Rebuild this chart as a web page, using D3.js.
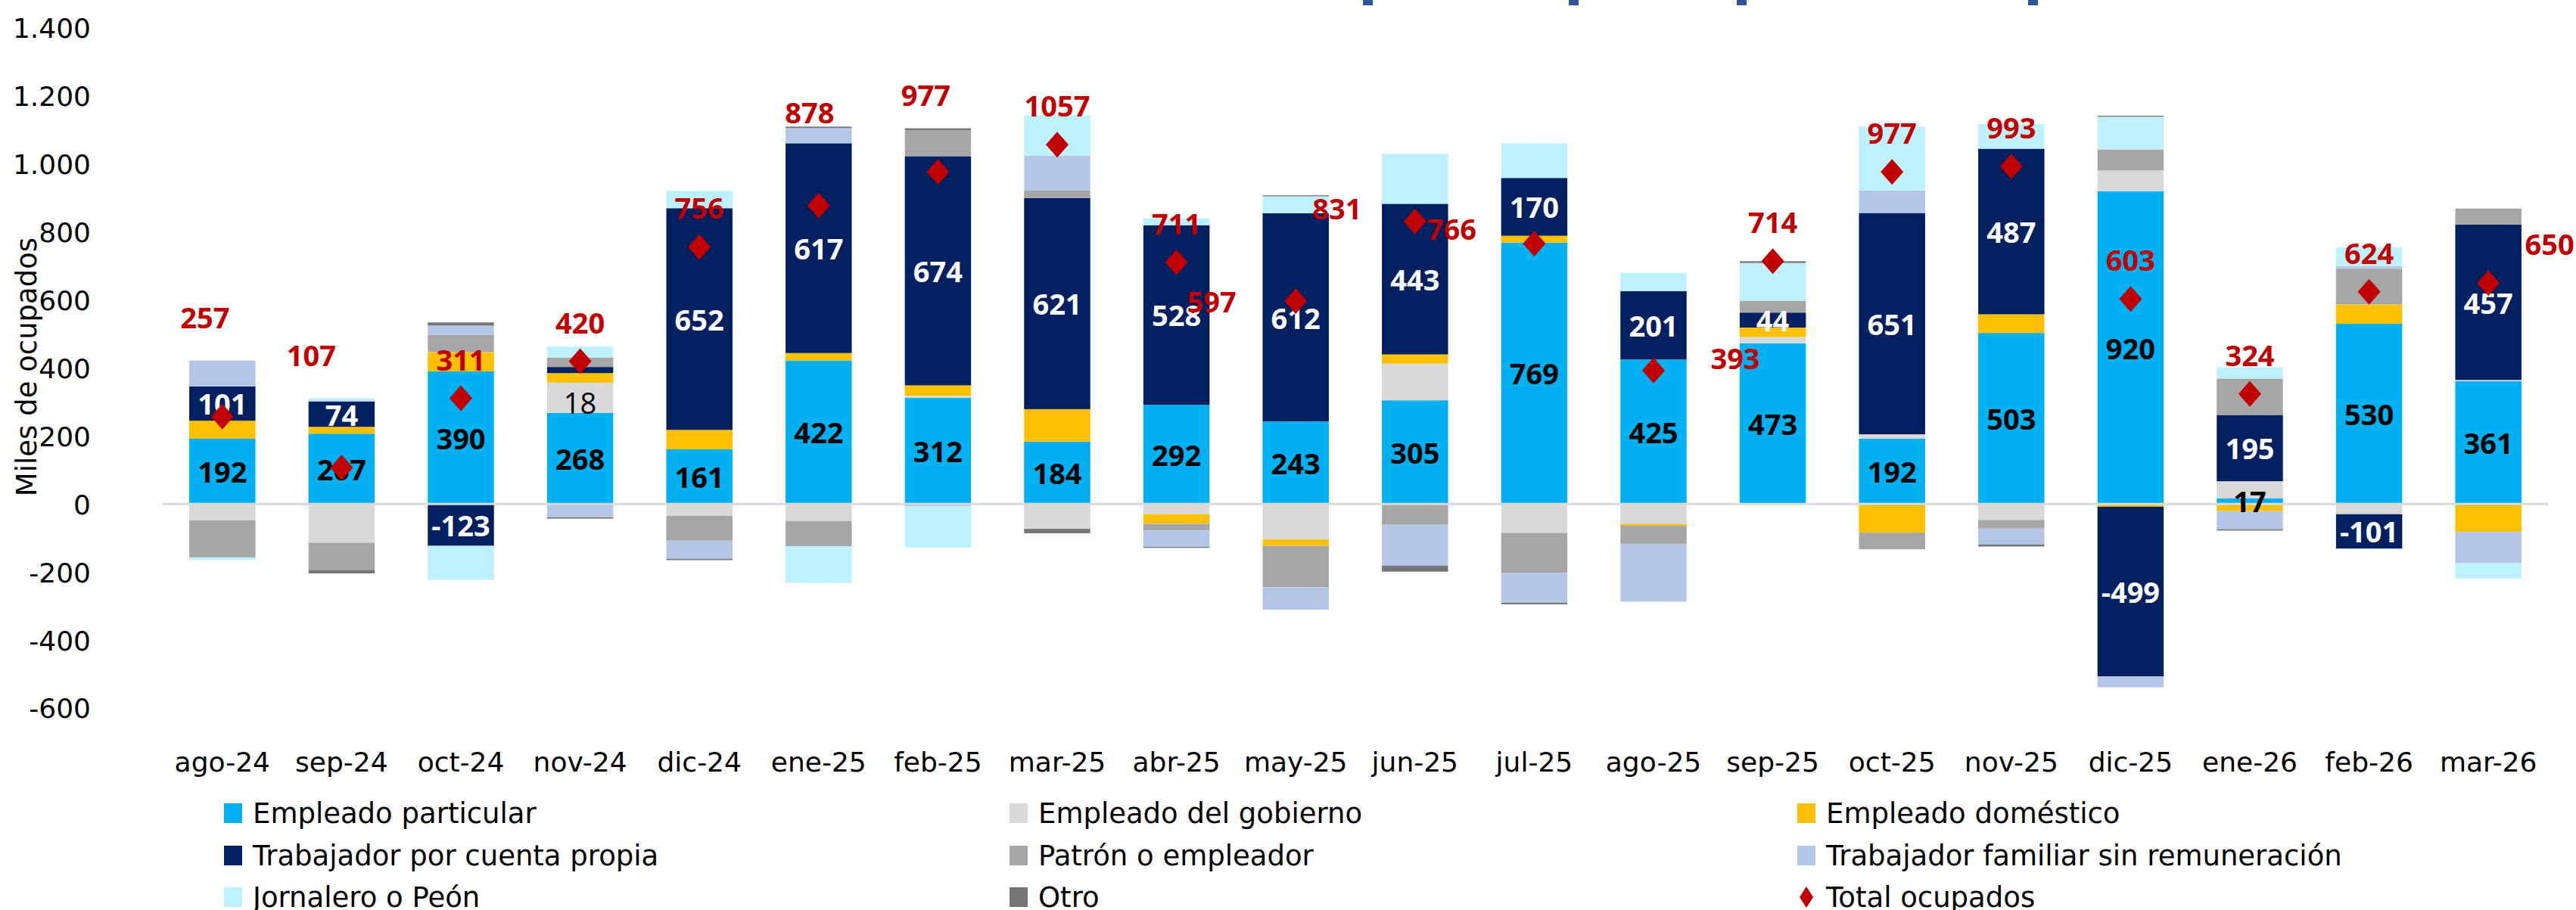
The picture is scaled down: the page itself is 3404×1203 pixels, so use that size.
<!DOCTYPE html>
<html>
<head>
<meta charset="utf-8">
<script src="https://cdn.jsdelivr.net/npm/d3@7"></script>
<style>
  body { margin: 0; background: #fff; }
  svg { display: block; }
</style>
</head>
<body>
<svg width="3404" height="1203"></svg>
<script>
// meses del eje x
const months = ["ago-24", "sep-24", "oct-24", "nov-24", "dic-24", "ene-25", "feb-25", "mar-25", "abr-25", "may-25",
                "jun-25", "jul-25", "ago-25", "sep-25", "oct-25", "nov-25", "dic-25", "ene-26", "feb-26", "mar-26"];

// variaciones anuales por posición ocupacional (miles)
const particular = [192, 207, 390, 268, 161, 422, 312, 184, 292, 243, 305, 769, 425, 473, 192, 503, 920, 17, 530, 361];
const gobierno   = [-48, -114, 0, 89, -35, -50, 6, -73, -30, -104, 108, -85, -59, 18, 13, -47, 61, 50, -30, 4];
const domestico  = [53, 20, 57, 28, 57, 22, 31, 95, -28, -19, 27, 20, -5, 28, -84, 55, -8, -21, 57, -82];
const propia     = [101, 74, -123, 18, 652, 617, 674, 621, 528, 612, 443, 170, 201, 44, 651, 487, -499, 195, -101, 457];
const patron     = [-109, -81, 51, 28, -73, -74, 76, 23, -20, -122, -61, -118, -53, 35, -49, -25, 62, 107, 105, 47];
const familiar   = [76, 4, 27, -39, -53, 45, -7, 102, -48, -66, -120, -87, -170, 0, 66, -47, -32, -53, 8, -92];
const jornalero  = [-8, 6, -100, 32, 51, -108, -121, 118, 20, 50, 147, 102, 54, 111, 188, 73, 96, 33, 55, -45];
const otro       = [0, -9, 9, -4, -4, 4, 6, -13, -3, 3, -18, -5, 0, 5, 0, -6, 3, -4, 0, 0];
const totales    = [257, 107, 311, 420, 756, 878, 977, 1057, 711, 597, 831, 766, 393, 714, 977, 993, 603, 324, 624, 650];

const yTicks = [-600, -400, -200, 0, 200, 400, 600, 800, 1000, 1200, 1400];

const series = [
    {key: "particular", name: "Empleado particular", values: particular},
    {key: "gobierno", name: "Empleado del gobierno", values: gobierno},
    {key: "domestico", name: "Empleado doméstico", values: domestico},
    {key: "propia", name: "Trabajador por cuenta propia", values: propia},
    {key: "patron", name: "Patrón o empleador", values: patron},
    {key: "familiar", name: "Trabajador familiar sin remuneración", values: familiar},
    {key: "jornalero", name: "Jornalero o Peón", values: jornalero},
    {key: "otro", name: "Otro", values: otro}
];

// colores
const colors = {
    particular: "#00B0F0", gobierno: "#D9D9D9", domestico: "#FFC000", propia: "#002060",
    patron: "#A6A6A6", familiar: "#B4C7E7", jornalero: "#BDF1FF", otro: "#767676"
};
const red = "#C00000";

// desplazamiento manual de las etiquetas del total (como en el original)
const totalShift = {
    "ago-24": [-23, -132], "sep-24": [-40, -149], "ene-25": [-12, -124], "feb-25": [-16, -102],
    "may-25": [-111, 0], "jun-25": [-103, -18], "jul-25": [-109, -20], "ago-25": [108, -17],
    "mar-26": [81, -52]
};

const svg = d3.select("svg");
const fontAxis = "'DejaVu Sans', sans-serif";
const fontLabel = "'Open Sans', 'DejaVu Sans', sans-serif";

const x = d3.scaleBand()
    .domain(months)
    .range([215, 3367])
    .paddingInner(0.445)
    .paddingOuter(0.2225);

const y = d3.scaleLinear()
    .domain([-600, 1400])
    .range([936, 37]);

// filas para el stack
const rows = months.map((m, i) => {
    const r = {month: m};
    series.forEach(s => r[s.key] = s.values[i]);
    return r;
});

const stacked = d3.stack()
    .keys(series.map(s => s.key))
    .offset(d3.stackOffsetDiverging)(rows);

// marcas azules recortadas del titulo original (borde superior)
[1801, 2073, 2295, 2680].forEach(px => {
    svg.append("rect").attr("x", px).attr("y", 0).attr("width", 13).attr("height", 7).attr("fill", "#2F5597");
});

// barras apiladas
svg.append("g")
    .selectAll("g")
    .data(stacked)
    .join("g")
    .attr("fill", d => colors[d.key])
    .selectAll("rect")
    .data(d => d)
    .join("rect")
    .attr("x", d => x(d.data.month))
    .attr("y", d => y(Math.max(d[0], d[1])))
    .attr("width", x.bandwidth())
    .attr("height", d => Math.abs(y(d[0]) - y(d[1])));

// linea del cero
svg.append("line")
    .attr("x1", 215).attr("x2", 3367)
    .attr("y1", y(0)).attr("y2", y(0))
    .attr("stroke", "#D9D9D9")
    .attr("stroke-width", 3);

// eje y
const locale = d3.formatLocale({decimal: ",", thousands: ".", grouping: [3], currency: ["", ""], minus: "-"});
const fmt = locale.format(",");

const yAxis = svg.append("g")
    .attr("transform", "translate(120,0)")
    .call(d3.axisLeft(y).tickValues(yTicks).tickSize(0).tickPadding(0).tickFormat(fmt));
yAxis.select(".domain").remove();
yAxis.selectAll("text")
    .attr("font-family", fontAxis)
    .attr("font-size", 36)
    .attr("fill", "#000")
    .attr("dy", "0.36em");

svg.append("text")
    .attr("transform", "translate(35,485) rotate(-90)")
    .attr("text-anchor", "middle")
    .attr("dominant-baseline", "central")
    .attr("font-family", fontAxis)
    .attr("font-size", 37)
    .attr("fill", "#000")
    .text("Miles de ocupados");

// eje x
const xAxis = svg.append("g")
    .attr("transform", "translate(0,1007)")
    .call(d3.axisBottom(x).tickSize(0).tickPadding(0));
xAxis.select(".domain").remove();
xAxis.selectAll("text")
    .attr("font-family", fontAxis)
    .attr("font-size", 36)
    .attr("fill", "#000")
    .attr("y", 0)
    .attr("dy", "0.36em");

// etiquetas de los segmentos (particular y cuenta propia)
const labelKeys = {particular: "#000", propia: "#fff"};
const isMoved = (key, d) => key === "propia" && d.data.month === "nov-24";
stacked.filter(s => labelKeys[s.key]).forEach(s => {
    svg.append("g")
        .selectAll("text")
        .data(s)
        .join("text")
        .attr("x", d => x(d.data.month) + x.bandwidth() / 2)
        .attr("y", d => (y(d[0]) + y(d[1])) / 2 + (isMoved(s.key, d) ? 43 : 0))
        .attr("text-anchor", "middle")
        .attr("dominant-baseline", "central")
        .attr("font-family", fontLabel)
        .attr("font-size", 38)
        .attr("font-weight", d => isMoved(s.key, d) ? 400 : 700)
        .attr("fill", d => isMoved(s.key, d) ? "#000" : labelKeys[s.key])
        .text(d => d.data[s.key]);
});

// total ocupados: rombos
const diamond = (w, h) => `M0,${-h / 2}L${w / 2},0L0,${h / 2}L${-w / 2},0Z`;
svg.append("g")
    .selectAll("path")
    .data(totales)
    .join("path")
    .attr("d", diamond(30, 34))
    .attr("transform", (d, i) => `translate(${x(months[i]) + x.bandwidth() / 2},${y(d)})`)
    .attr("fill", red);

svg.append("g")
    .selectAll("text")
    .data(totales)
    .join("text")
    .attr("x", (d, i) => x(months[i]) + x.bandwidth() / 2 + (totalShift[months[i]] || [0, -52])[0])
    .attr("y", (d, i) => y(d) + (totalShift[months[i]] || [0, -52])[1])
    .attr("text-anchor", "middle")
    .attr("dominant-baseline", "central")
    .attr("font-family", fontLabel)
    .attr("font-size", 38)
    .attr("font-weight", 700)
    .attr("fill", red)
    .text(d => d);

// leyenda
const legendItems = series.map(s => ({name: s.name, color: colors[s.key], type: "rect"}))
    .concat([{name: "Total ocupados", color: red, type: "diamond"}]);
const colX = [296, 1334, 2375];
const rowY = [1075, 1131, 1186];

const legend = svg.append("g")
    .selectAll("g")
    .data(legendItems)
    .join("g")
    .attr("transform", (d, i) => `translate(${colX[i % 3]},${rowY[Math.floor(i / 3)]})`);

legend.filter(d => d.type === "rect")
    .append("rect")
    .attr("x", 0).attr("y", -13)
    .attr("width", 24).attr("height", 26)
    .attr("fill", d => d.color);

legend.filter(d => d.type === "diamond")
    .append("path")
    .attr("d", diamond(18, 28))
    .attr("transform", "translate(12,0)")
    .attr("fill", d => d.color);

legend.append("text")
    .attr("x", 38)
    .attr("dominant-baseline", "central")
    .attr("font-family", fontAxis)
    .attr("font-size", 37)
    .attr("fill", "#000")
    .text(d => d.name);
</script>
</body>
</html>
